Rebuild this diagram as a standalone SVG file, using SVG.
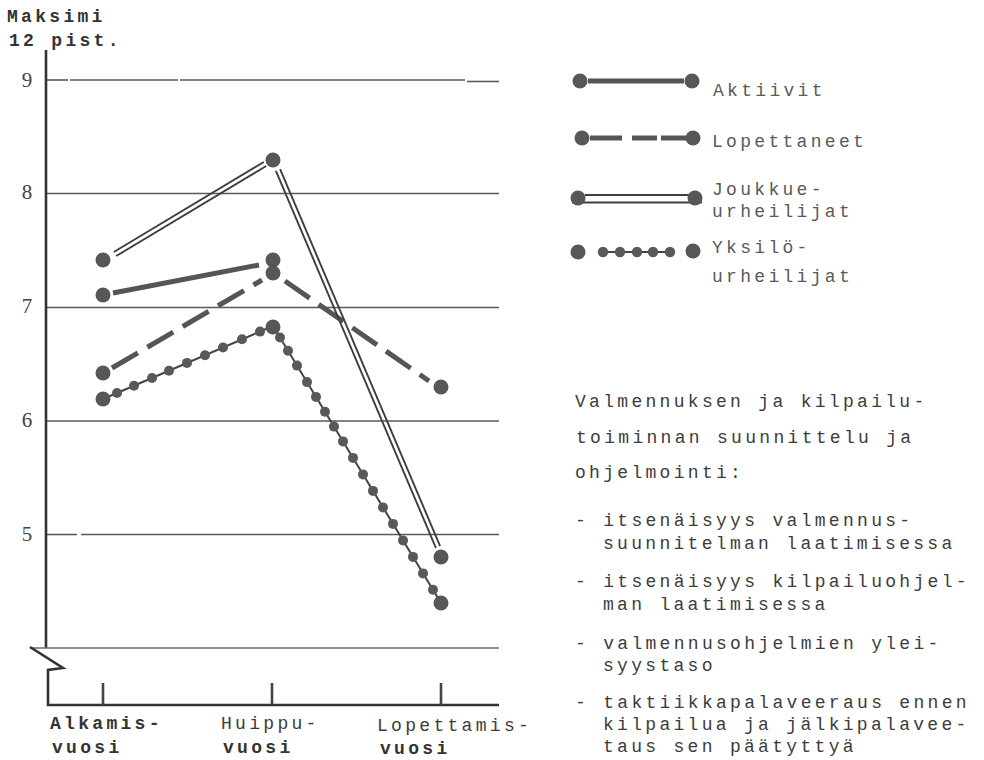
<svg xmlns="http://www.w3.org/2000/svg" width="984" height="760" viewBox="0 0 984 760">
  <style>
    .bg { fill: #ffffff; }
    .grid { stroke: #5a5a5a; stroke-width: 1.6; fill: none; }
    .axis { stroke: #333333; stroke-width: 2.6; fill: none; }
    .frame { stroke: #6a6a6a; stroke-width: 1.6; fill: none; }
    .tick { stroke: #444444; stroke-width: 2.6; }
    .num { font-family: "Liberation Serif", "DejaVu Serif", serif; font-size: 21px; fill: #444444; text-anchor: middle; }
    .tw { font-family: "Liberation Mono", "DejaVu Sans Mono", monospace; font-size: 18px; letter-spacing: 3.3px; fill: #3c3c3c; }
    .twb { font-family: "Liberation Mono", "DejaVu Sans Mono", monospace; font-size: 18px; letter-spacing: 3.3px; fill: #333333; font-weight: bold; }
    .lg { font-family: "Liberation Mono", "DejaVu Sans Mono", monospace; font-size: 18px; letter-spacing: 3.3px; fill: #5a5a5a; }
    .dot { fill: #575757; }
    .sdot { fill: #595959; }
    .solid { stroke: #555555; stroke-width: 5; stroke-linecap: butt; fill: none; }
    .dash { stroke: #555555; stroke-width: 5; stroke-dasharray: 30 11; fill: none; }
    .dbl { stroke: #3e3e3e; stroke-width: 1.9; fill: none; }
    .chain { stroke: #444444; stroke-width: 2; fill: none; }
  </style>

  <rect class="bg" x="0" y="0" width="984" height="760"/>

  <!-- axis heading -->
  <g id="axis-title">
    <text class="twb" x="7" y="22">Maksimi</text>
    <text class="twb" x="9" y="46">12 pist.</text>
  </g>

  <!-- horizontal grid, values 9 ... 5 -->
  <g id="grid">
    <line class="grid" x1="46" y1="80" x2="68" y2="80"/>
    <line class="grid" x1="70" y1="80" x2="178" y2="80"/>
    <line class="grid" x1="180" y1="80" x2="465" y2="80"/>
    <line class="grid" x1="467" y1="81.5" x2="499" y2="81.5"/>
    <line class="grid" x1="46" y1="193.5" x2="499" y2="193.5"/>
    <line class="grid" x1="46" y1="307.5" x2="499" y2="307.5"/>
    <line class="grid" x1="46" y1="421" x2="499" y2="421"/>
    <line class="grid" x1="46" y1="534.5" x2="77" y2="534.5"/>
    <line class="grid" x1="81" y1="534.5" x2="499" y2="534.5"/>
  </g>

  <!-- value labels -->
  <g id="y-labels">
    <text class="num" x="27" y="87">9</text>
    <text class="num" x="27" y="199">8</text>
    <text class="num" x="27" y="313">7</text>
    <text class="num" x="27" y="427">6</text>
    <text class="num" x="27" y="541">5</text>
  </g>

  <!-- vertical axis with break and time axis -->
  <g id="axes">
    <line class="axis" x1="46" y1="50" x2="46" y2="648"/>
    <line class="frame" x1="30" y1="648" x2="499" y2="648"/>
    <polyline class="axis" points="30,647 63,668 48,670 48,705 499,705" stroke-width="2.2"/>
    <line class="tick" x1="103" y1="683" x2="103" y2="705"/>
    <line class="tick" x1="272" y1="683" x2="272" y2="705"/>
    <line class="tick" x1="441" y1="683" x2="441" y2="705"/>
  </g>

  <g id="x-labels">
    <text class="twb" x="50" y="729">Alkamis-</text>
    <text class="twb" x="52" y="753">vuosi</text>
    <text class="tw" x="221" y="729">Huippu-</text>
    <text class="twb" x="223" y="753">vuosi</text>
    <text class="tw" x="377" y="731">Lopettamis-</text>
    <text class="twb" x="380" y="754">vuosi</text>
  </g>

  <!-- connectors: series lines -->
  <g id="connectors">
    <!-- Aktiivit -->
    <line class="solid" x1="113" y1="293" x2="259" y2="265"/>
    <!-- Lopettaneet -->
    <line class="dash" x1="112" y1="368" x2="262" y2="280"/>
    <line class="dash" x1="285" y1="281" x2="429" y2="381" stroke-dasharray="29 10"/>
    <!-- Joukkueurheilijat (double line) -->
    <line class="dbl" x1="113.8" y1="252" x2="263.8" y2="162"/>
    <line class="dbl" x1="116.2" y1="256" x2="266.2" y2="166"/>
    <line class="dbl" x1="280.1" y1="169.1" x2="440.1" y2="546.1"/>
    <line class="dbl" x1="275.9" y1="170.9" x2="435.9" y2="547.9"/>
    <!-- Yksilöurheilijat (bead chain) -->
    <line class="chain" x1="103" y1="399" x2="273" y2="326"/>
    <line class="chain" x1="273" y1="326" x2="441" y2="603"/>
  </g>

  <!-- series markers -->
  <g id="series-aktiivit">
    <circle class="dot" cx="103" cy="295" r="7.5"/>
    <circle class="dot" cx="273" cy="260" r="7.5"/>
  </g>
  <g id="series-lopettaneet">
    <circle class="dot" cx="103" cy="373" r="7.5"/>
    <circle class="dot" cx="273" cy="273" r="7.5"/>
    <circle class="dot" cx="441" cy="387" r="7.5"/>
  </g>
  <g id="series-joukkue">
    <circle class="dot" cx="103" cy="260" r="7.5"/>
    <circle class="dot" cx="273" cy="160" r="7.5"/>
    <circle class="dot" cx="441" cy="557" r="7.5"/>
  </g>
  <g id="series-yksilo">
    <circle class="dot" cx="103" cy="399" r="7.5"/>
    <circle class="sdot" cx="117" cy="393" r="5"/>
    <circle class="sdot" cx="134" cy="385.7" r="5"/>
    <circle class="sdot" cx="152" cy="378" r="5"/>
    <circle class="sdot" cx="169" cy="370.7" r="5"/>
    <circle class="sdot" cx="187" cy="362.9" r="5"/>
    <circle class="sdot" cx="205" cy="355.2" r="5"/>
    <circle class="sdot" cx="223" cy="347.5" r="5"/>
    <circle class="sdot" cx="242" cy="339.3" r="5"/>
    <circle class="sdot" cx="260" cy="331.6" r="5"/>
    <circle class="dot" cx="273" cy="327" r="7.5"/>
    <circle class="sdot" cx="280" cy="337.5" r="5"/>
    <circle class="sdot" cx="288" cy="350.7" r="5"/>
    <circle class="sdot" cx="297" cy="365.6" r="5"/>
    <circle class="sdot" cx="307" cy="382.1" r="5"/>
    <circle class="sdot" cx="316" cy="396.9" r="5"/>
    <circle class="sdot" cx="325" cy="411.7" r="5"/>
    <circle class="sdot" cx="334" cy="426.6" r="5"/>
    <circle class="sdot" cx="343" cy="441.4" r="5"/>
    <circle class="sdot" cx="353" cy="457.9" r="5"/>
    <circle class="sdot" cx="363" cy="474.4" r="5"/>
    <circle class="sdot" cx="373" cy="490.9" r="5"/>
    <circle class="sdot" cx="383" cy="507.4" r="5"/>
    <circle class="sdot" cx="393" cy="523.9" r="5"/>
    <circle class="sdot" cx="403" cy="540.4" r="5"/>
    <circle class="sdot" cx="413" cy="556.9" r="5"/>
    <circle class="sdot" cx="423" cy="573.4" r="5"/>
    <circle class="sdot" cx="433" cy="589.8" r="5"/>
    <circle class="dot" cx="441" cy="603" r="7.5"/>
  </g>

  <!-- legend -->
  <g id="legend-aktiivit">
    <line class="solid" x1="588" y1="81" x2="684" y2="81"/>
    <circle class="dot" cx="580" cy="81" r="7.5"/>
    <circle class="dot" cx="692" cy="81" r="7.5"/>
    <text class="lg" x="713" y="96">Aktiivit</text>
  </g>
  <g id="legend-lopettaneet">
    <line class="solid" x1="590" y1="138" x2="622" y2="138"/>
    <line class="solid" x1="632" y1="138" x2="657" y2="138"/>
    <line class="solid" x1="661" y1="138" x2="686" y2="138"/>
    <circle class="dot" cx="582" cy="138" r="7.5"/>
    <circle class="dot" cx="693" cy="138" r="7.5"/>
    <text class="lg" x="712" y="147">Lopettaneet</text>
  </g>
  <g id="legend-joukkue">
    <line class="dbl" x1="585" y1="195" x2="690" y2="195"/>
    <line class="dbl" x1="572" y1="202.5" x2="702" y2="202.5" stroke-width="2.6"/>
    <circle class="dot" cx="578" cy="198" r="7.5"/>
    <circle class="dot" cx="695" cy="198" r="7.5"/>
    <text class="lg" x="712" y="195">Joukkue-</text>
    <text class="lg" x="712" y="217">urheilijat</text>
  </g>
  <g id="legend-yksilo">
    <line class="chain" x1="603" y1="252" x2="670" y2="252"/>
    <circle class="dot" cx="578" cy="252" r="7.5"/>
    <circle class="sdot" cx="603" cy="252" r="5.2"/>
    <circle class="sdot" cx="620" cy="252" r="5.2"/>
    <circle class="sdot" cx="637" cy="252" r="5.2"/>
    <circle class="sdot" cx="653" cy="252" r="5.2"/>
    <circle class="sdot" cx="670" cy="252" r="5.2"/>
    <circle class="dot" cx="693" cy="251" r="7.5"/>
    <text class="lg" x="712" y="253">Yksilö-</text>
    <text class="lg" x="712" y="282">urheilijat</text>
  </g>

  <!-- caption block -->
  <g id="caption">
    <text class="tw" x="575" y="407">Valmennuksen ja kilpailu-</text>
    <text class="tw" x="576" y="443">toiminnan suunnittelu ja</text>
    <text class="tw" x="575" y="478">ohjelmointi:</text>
    <text class="tw" x="575" y="526">- itsenäisyys valmennus-</text>
    <text class="tw" x="603" y="549">suunnitelman laatimisessa</text>
    <text class="tw" x="575" y="587">- itsenäisyys kilpailuohjel-</text>
    <text class="tw" x="603" y="610">man laatimisessa</text>
    <text class="tw" x="575" y="649">- valmennusohjelmien ylei-</text>
    <text class="tw" x="603" y="671">syystaso</text>
    <text class="tw" x="575" y="708">- taktiikkapalaveeraus ennen</text>
    <text class="tw" x="603" y="730">kilpailua ja jälkipalavee-</text>
    <text class="tw" x="603" y="752">taus sen päätyttyä</text>
  </g>
</svg>
